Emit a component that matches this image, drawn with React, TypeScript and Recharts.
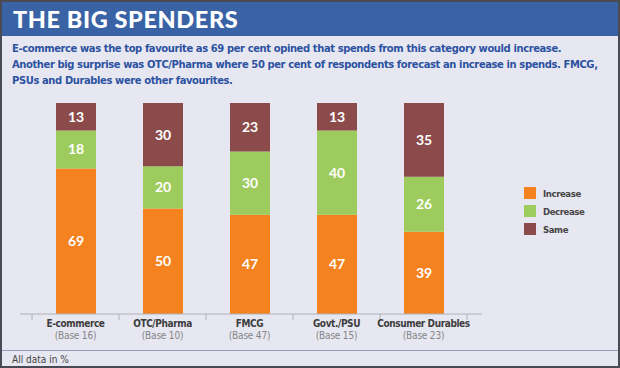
import React from 'react';
import { BarChart, Bar, XAxis, YAxis, LabelList } from 'recharts';

const categories = ['E-commerce', 'OTC/Pharma', 'FMCG', 'Govt./PSU', 'Consumer Durables'];
const bases = ['(Base 16)', '(Base 10)', '(Base 47)', '(Base 15)', '(Base 23)'];
const increase = [69, 50, 47, 47, 39];
const decrease = [18, 20, 30, 40, 26];
const same = [13, 30, 23, 13, 35];

const data = categories.map((name, i) => ({
  name,
  base: bases[i],
  increase: increase[i],
  decrease: decrease[i],
  same: same[i],
}));

const COLORS = { increase: '#f4831f', decrease: '#9ecb5e', same: '#8c4b4b' };
const BG = '#e7e7f1';
const NARROW = '"DejaVu Sans", sans-serif';
const BAND = 87;

const CategoryTick = (props: any) => {
  const { x, y, payload, index } = props;
  const row = data[index] || data.find((d) => d.name === payload.value);
  return (
    <g>
      <line x1={x - BAND / 2} x2={x - BAND / 2} y1={y - 8} y2={y - 2} stroke="#b0b0b8" />
      {index === categories.length - 1 && (
        <line x1={x + BAND / 2} x2={x + BAND / 2} y1={y - 8} y2={y - 2} stroke="#b0b0b8" />
      )}
      <text x={x} y={y + 5} textAnchor="middle" fontFamily={NARROW} fontStretch="condensed" fontWeight={700} fontSize={10} letterSpacing={-0.4} fill="#3d3d3d">
        {payload.value}
      </text>
      <text x={x} y={y + 17} textAnchor="middle" fontFamily={NARROW} fontStretch="condensed" fontSize={10} letterSpacing={-0.2} fill="#858585">
        {row ? row.base : ''}
      </text>
    </g>
  );
};

const legendItems: [string, string][] = [
  ['Increase', COLORS.increase],
  ['Decrease', COLORS.decrease],
  ['Same', COLORS.same],
];

export default function App() {
  return (
    <div
      style={{
        position: 'absolute',
        left: 0,
        top: 0,
        width: 620,
        height: 368,
        background: BG,
        boxSizing: 'border-box',
        border: '2px solid #4a4a55',
        overflow: 'hidden',
      }}
    >
      <div
        style={{
          position: 'absolute',
          left: 0,
          top: 0,
          width: 620,
          height: 34,
          background: '#3a63a6',
          color: '#fff',
          fontFamily: 'Lato, "Open Sans", sans-serif',
          fontWeight: 900,
          fontSize: 23.5,
          lineHeight: '35px',
          paddingLeft: 11,
          boxSizing: 'border-box',
          letterSpacing: 0.6,
        }}
      >
        THE BIG SPENDERS
      </div>
      <div
        style={{
          position: 'absolute',
          left: 10,
          top: 39,
          width: 610,
          fontFamily: NARROW,
          fontStretch: 'condensed',
          fontWeight: 700,
          fontSize: 11.1,
          letterSpacing: -0.4,
          lineHeight: '16px',
          color: '#2c52a0',
          whiteSpace: 'nowrap',
        }}
      >
        E-commerce was the top favourite as 69 per cent opined that spends from this category would increase.
        <br />
        Another big surprise was OTC/Pharma where 50 per cent of respondents forecast an increase in spends. FMCG,
        <br />
        PSUs and Durables were other favourites.
      </div>
      <div style={{ position: 'absolute', left: -2, top: -2 }}>
        <BarChart
          width={620}
          height={368}
          data={data}
          margin={{ top: 103, right: 138, bottom: 0, left: 20 }}
          barSize={40}
        >
          <YAxis hide domain={[0, 100]} />
          <XAxis
            dataKey="name"
            axisLine={{ stroke: '#b0b0b8' }}
            tickLine={false}
            tick={<CategoryTick />}
            interval={0}
            padding={{ left: 12, right: 15 }}
            height={54}
          />
          <Bar dataKey="increase" stackId="a" fill={COLORS.increase} isAnimationActive={false}>
            <LabelList dataKey="increase" position="center" fill="#fff" fontSize={14} fontWeight={700} fontFamily="Lato, sans-serif" />
          </Bar>
          <Bar dataKey="decrease" stackId="a" fill={COLORS.decrease} isAnimationActive={false}>
            <LabelList dataKey="decrease" position="center" fill="#fff" fontSize={14} fontWeight={700} fontFamily="Lato, sans-serif" />
          </Bar>
          <Bar dataKey="same" stackId="a" fill={COLORS.same} isAnimationActive={false}>
            <LabelList dataKey="same" position="center" fill="#fff" fontSize={14} fontWeight={700} fontFamily="Lato, sans-serif" />
          </Bar>
        </BarChart>
      </div>
      <div
        style={{
          position: 'absolute',
          left: 522,
          top: 182,
          fontFamily: NARROW,
          fontStretch: 'condensed',
          fontWeight: 700,
          fontSize: 9.5,
          letterSpacing: -0.4,
          color: '#444',
        }}
      >
        {legendItems.map(([label, c]) => (
          <div key={label} style={{ display: 'flex', alignItems: 'center', height: 18 }}>
            <span style={{ width: 12, height: 12, background: c, display: 'inline-block', marginRight: 7 }} />
            {label}
          </div>
        ))}
      </div>
      <div style={{ position: 'absolute', left: 0, top: 348, width: 620, borderTop: '1px solid #9a9ac0' }} />
      <div
        style={{
          position: 'absolute',
          left: 10,
          top: 352,
          fontFamily: NARROW,
          fontStretch: 'condensed',
          fontSize: 10,
          color: '#444',
        }}
      >
        All data in %
      </div>
    </div>
  );
}
